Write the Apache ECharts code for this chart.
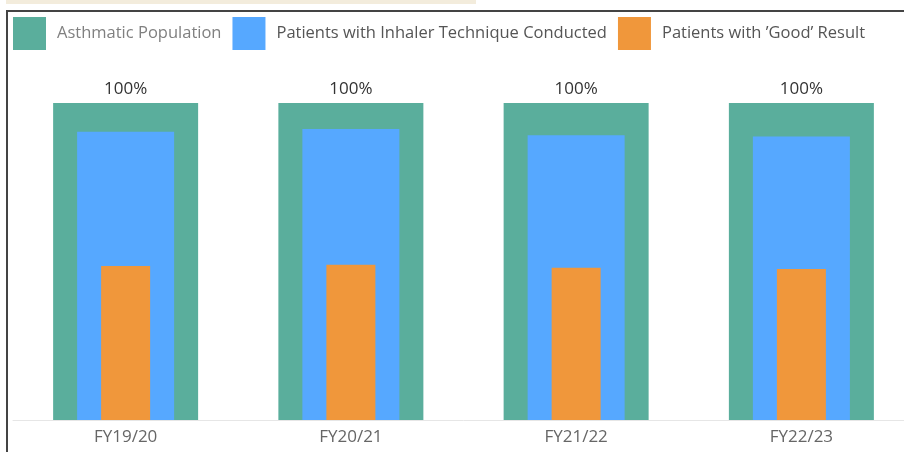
<!DOCTYPE html>
<html>
<head>
<meta charset="utf-8">
<script src="https://cdn.jsdelivr.net/npm/echarts@6/dist/echarts.min.js"></script>
<style>html,body{margin:0;padding:0;background:#fff;overflow:hidden;}#c{width:916px;height:452px;}</style>
</head>
<body>
<div id="c"></div>
<script>
var categories = ['FY19/20', 'FY20/21', 'FY21/22', 'FY22/23'];
var asthmatic = [1, 1, 1, 1];
var inhaler = [0.909, 0.918, 0.898, 0.894];
var good = [0.486, 0.490, 0.480, 0.476];
var seriesNames = ['Asthmatic Population', 'Patients with Inhaler Technique Conducted', "Patients with \u2019Good\u2019 Result"];

var FONT = '"Open Sans", sans-serif';
var chart = echarts.init(document.getElementById('c'));
chart.setOption({
  animation: false,
  color: ['#5aae9c', '#56a8ff', '#f0973b'],
  graphic: [
    { type: 'rect', shape: { x: 6, y: 0, width: 470, height: 4 }, style: { fill: '#f3ecdc' } },
    { type: 'rect', shape: { x: 6, y: 10, width: 910, height: 2 }, style: { fill: '#444' } },
    { type: 'rect', shape: { x: 6, y: 10, width: 2, height: 442 }, style: { fill: '#444' } }
  ],
  legend: {
    left: 13, top: 17, padding: 0,
    itemWidth: 33, itemHeight: 33, itemGap: 11,
    icon: 'rect',
    textStyle: { fontFamily: FONT, fontSize: 16.5, color: '#555', padding: [4, 0, 0, 6] },
    data: [
      { name: seriesNames[0], textStyle: { color: '#808080' } },
      { name: seriesNames[1] },
      { name: seriesNames[2] }
    ]
  },
  grid: { left: 13, top: 103, right: 2, bottom: 32, containLabel: false },
  xAxis: [0, 1, 2].map(function (i) {
    return {
      type: 'category', data: categories, show: i === 0,
      axisLine: { show: true, lineStyle: { color: '#e6e6e6', width: 1 } },
      axisTick: { show: false },
      axisLabel: { fontFamily: FONT, fontSize: 17, color: '#666', margin: 9 }
    };
  }),
  yAxis: { type: 'value', min: 0, max: 1, show: false, splitLine: { show: false } },
  series: [
    { name: seriesNames[0], type: 'bar', xAxisIndex: 0, barWidth: 145, data: asthmatic,
      label: { show: true, position: 'top', distance: 5, fontFamily: FONT, fontSize: 17, color: '#333',
        formatter: function (p) { return Math.round(p.value * 100) + '%'; } } },
    { name: seriesNames[1], type: 'bar', xAxisIndex: 1, barWidth: 97, data: inhaler },
    { name: seriesNames[2], type: 'bar', xAxisIndex: 2, barWidth: 49, data: good }
  ]
});
</script>
</body>
</html>
